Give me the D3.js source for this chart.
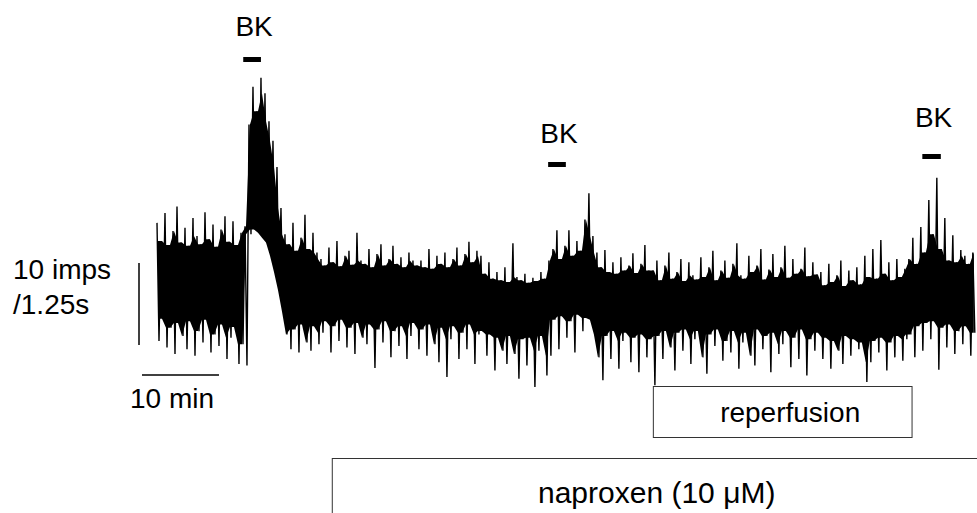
<!DOCTYPE html>
<html>
<head>
<meta charset="utf-8">
<script src="https://cdn.jsdelivr.net/npm/d3@7/dist/d3.min.js"></script>
<style>
	body { margin: 0; background: #fff; }
	svg { display: block; font-family: "Liberation Sans", Arial, Helvetica, sans-serif; }
</style>
</head>
<body>
<svg id="chart"></svg>
<script>
// Firing rate (imps / 1.25 s): one local maximum and one
// local minimum per 2 * halfStep minutes, starting at t = 0
const halfStep = 0.2597;

const peaks = [
	// control
	21.6, 19.4, 22.8, 18.9, 20.6, 23.6, 19.2, 21.0, 18.8, 22.2, 20.0, 19.0, 22.9, 19.6, 21.4, 18.7,
	20.8, 22.4, 19.3, 21.8, 18.9, 20.4, 21.2,
	// first BK response
	33.6, 38.2, 35.2, 39.3, 37.4, 34.0, 31.6, 28.4, 23.4, 20.2,
	19.0, 21.6, 18.2, 19.8, 22.6, 18.4, 20.4, 18.0,
	17.2, 16.4, 18.6, 16.8, 19.4, 16.3, 17.6, 18.2, 16.5, 20.4, 17.0, 16.6, 18.4, 16.2, 17.8, 19.0,
	16.4, 17.2, 18.8, 16.6, 17.4, 16.2, 18.0, 17.0, 16.4,
	17.0, 16.2, 18.4, 16.0, 17.6, 16.6, 18.0, 16.2, 17.2, 18.6, 16.4, 17.8, 19.3, 16.8, 18.2,
	17.6, 15.4, 16.8, 14.8, 15.6, 14.6, 16.2, 14.4, 19.1, 15.0, 14.6, 15.4, 14.3, 14.9, 14.5, 15.6, 14.8,
	// second BK
	17.0, 18.4, 20.7, 17.2, 18.8, 20.7, 17.6, 19.4, 18.2, 22.0, 25.2, 20.0, 18.0,
	16.2, 18.3, 15.6, 16.8, 15.4, 17.4, 15.8, 16.4, 17.9, 15.5, 16.6, 18.9, 15.8,
	15.8, 17.0, 14.6, 16.4, 18.0, 14.8, 15.6, 17.2, 14.5, 16.8, 15.2, 14.7, 17.4, 15.0, 16.2, 18.2,
	14.6, 15.8, 17.0, 14.9, 16.6, 19.1, 15.2, 14.8, 17.6, 15.6, 16.4, 18.4, 14.7, 15.9, 17.8, 15.0,
	16.2, 18.8, 14.9, 17.2, 15.4, 16.0, 18.6, 15.1, 16.8, 15.3,
	15.6, 14.0, 16.6, 14.4, 15.2, 17.0, 13.9, 15.8, 14.6, 16.2, 14.1, 17.6, 15.0, 18.4, 14.8, 19.5,
	15.4, 16.8, 14.6, 17.2, 15.0, 16.0,
	// third BK
	17.2, 19.8, 16.6, 21.1, 18.0, 24.4, 20.2, 27.1, 18.4, 22.2, 17.0, 20.1, 16.8, 18.3, 17.6, 16.6, 18.0
];

const troughs = [
	7.2, 9.9, 6.4, 8.8, 5.6, 9.4, 7.8, 6.2, 9.6, 5.4, 8.4, 7.0, 9.8, 5.8, 8.0, 6.6,
	9.2, 5.0, 7.6, 8.9, 4.4, 6.8, 4.2,
	20.2, 20.8, 20.4, 19.8, 19.2, 17.6, 15.6, 13.4, 10.8, 8.0,
	6.2, 8.6, 5.8, 9.2, 7.0, 6.0, 9.0, 6.8,
	8.2, 9.6, 5.8, 9.0, 7.2, 9.8, 6.4, 8.8, 5.6, 9.4, 7.6, 6.8, 9.2, 3.9, 8.6, 7.0,
	9.6, 5.2, 8.4, 6.6, 9.0, 5.0, 7.8, 9.4, 6.2,
	8.6, 5.4, 9.2, 6.8, 4.6, 8.8, 2.8, 7.4, 9.0, 5.0, 8.2, 6.2, 9.2, 4.4, 8.0,
	8.4, 5.4, 8.0, 3.6, 7.6, 6.0, 4.4, 7.8, 5.6, 2.6, 7.4, 4.2, 7.6, 1.6, 6.0, 7.8, 3.0,
	5.4, 9.8, 6.2, 10.2, 7.6, 9.6, 5.8, 10.4, 8.4, 10.0, 9.8, 8.0, 5.2,
	2.4, 7.8, 5.0, 8.4, 3.8, 7.2, 8.2, 4.6, 7.6, 3.4, 8.0, 5.2, 7.4,
	1.8, 7.8, 5.0, 8.4, 6.4, 3.6, 8.2, 6.0, 8.6, 4.4, 7.4, 8.4, 5.2, 3.2, 8.0, 6.6,
	8.6, 4.8, 7.2, 5.8, 8.4, 3.8, 7.0, 8.2, 5.4, 4.2, 8.6, 6.2, 7.8, 3.4, 8.2, 5.6,
	6.8, 8.4, 4.0, 7.6, 5.0, 8.6, 3.0, 7.4, 6.0, 8.2,
	5.0, 7.6, 3.8, 7.2, 6.0, 4.4, 7.8, 5.4, 7.4, 6.2, 7.0, 2.2, 4.6, 7.2, 5.8, 7.6,
	3.6, 7.0, 5.2, 7.8, 4.8, 7.4,
	8.0, 5.2, 9.0, 6.0, 9.4, 7.4, 9.6, 3.7, 8.8, 6.4, 9.2, 5.6, 8.4, 6.8, 9.0, 5.4, 8.2
];

// drug applications, minutes
const bkLabel = 'BK';
const bkApplications = [[11.2, 13.5], [50.8, 53.1], [99.4, 101.8]];
const reperfusion = [64.4, 98.0];
const naproxen = [22.7, 115];
const reperfusionLabel = 'reperfusion';
const naproxenLabel = 'naproxen (10 \u03bcM)';

// calibration bars
const scaleRate = [6.7, 16.7];   // 10 imps
const scaleTime = [-1.95, 8.05]; // 10 min
const rateLabels = ['10 imps', '/1.25s'];
const timeLabel = '10 min';

// layout only
const layout = {
	width: 977, height: 513,
	traceLeft: 157, traceRight: 977,
	bkBarTop: [57, 162, 154],
	bkTextY: [36, 143, 127],
	reperfusionBox: [386, 437],
	naproxenTop: 458
};

class TraceChart {

	constructor(_config) {
		this.config = _config;
		this.initVis();
	}

	initVis() {
		let vis = this;

		vis.svg = d3.select(vis.config.parentElement)
			.attr('width', layout.width)
			.attr('height', layout.height);

		vis.xScale = d3.scaleLinear()
			.domain([0, 106.5])
			.range([layout.traceLeft, layout.traceRight]);

		vis.yScale = d3.scaleLinear()
			.domain([0, 40])
			.range([400, 72]);

		vis.renderVis();
	}

	renderVis() {
		let vis = this;

		// interleave maxima and minima into one sample series
		vis.samples = [];
		peaks.forEach((p, k) => {
			vis.samples.push({ t: 2 * k * halfStep, v: p });
			vis.samples.push({ t: (2 * k + 1) * halfStep, v: troughs[k] });
		});

		// solid core of the trace: the range both neighbouring excursions cover
		vis.core = peaks.map((p, k) => {
			const j = Math.min(k + 1, peaks.length - 1);
			const bottom = Math.max(troughs[k], troughs[j]);
			const top = Math.max(Math.min(p, peaks[j]), bottom);
			return { t: (2 * k + 0.5) * halfStep, top: top, bottom: bottom };
		});

		vis.svg.append('path')
			.datum(vis.core)
			.attr('fill', '#000')
			.attr('d', d3.area()
				.x(d => vis.xScale(d.t))
				.y0(d => vis.yScale(d.bottom))
				.y1(d => vis.yScale(d.top)));

		vis.svg.append('path')
			.datum(vis.samples)
			.attr('fill', 'none')
			.attr('stroke', '#000')
			.attr('stroke-width', 1.4)
			.attr('d', d3.line()
				.x(d => vis.xScale(d.t))
				.y(d => vis.yScale(d.v)));

		// BK bars and labels
		vis.svg.selectAll('.bk-bar')
			.data(bkApplications)
			.join('rect')
			.attr('class', 'bk-bar')
			.attr('x', d => vis.xScale(d[0]))
			.attr('width', d => vis.xScale(d[1]) - vis.xScale(d[0]))
			.attr('y', (d, i) => layout.bkBarTop[i])
			.attr('height', 5)
			.attr('fill', '#000');

		vis.svg.selectAll('.bk-label')
			.data(bkApplications)
			.join('text')
			.attr('class', 'bk-label')
			.attr('x', d => vis.xScale((d[0] + d[1]) / 2) + 2)
			.attr('y', (d, i) => layout.bkTextY[i])
			.attr('text-anchor', 'middle')
			.attr('font-size', 28)
			.text(bkLabel);

		// reperfusion box
		const rx0 = vis.xScale(reperfusion[0]), rx1 = vis.xScale(reperfusion[1]);
		vis.svg.append('rect')
			.attr('x', rx0 + 0.5)
			.attr('y', layout.reperfusionBox[0] + 0.5)
			.attr('width', rx1 - rx0)
			.attr('height', layout.reperfusionBox[1] - layout.reperfusionBox[0])
			.attr('fill', 'none')
			.attr('stroke', '#333')
			.attr('stroke-width', 1);

		vis.svg.append('text')
			.attr('x', (rx0 + rx1) / 2 + 8)
			.attr('y', 422)
			.attr('text-anchor', 'middle')
			.attr('font-size', 28)
			.text(reperfusionLabel);

		// naproxen box (runs past the right edge)
		const nx0 = vis.xScale(naproxen[0]), nx1 = vis.xScale(naproxen[1]);
		vis.svg.append('rect')
			.attr('x', nx0 + 0.5)
			.attr('y', layout.naproxenTop + 0.5)
			.attr('width', nx1 - nx0)
			.attr('height', 100)
			.attr('fill', 'none')
			.attr('stroke', '#333')
			.attr('stroke-width', 1);

		vis.svg.append('text')
			.attr('x', 538)
			.attr('y', 503)
			.attr('font-size', 30)
			.text(naproxenLabel);

		// calibration
		vis.svg.append('line')
			.attr('x1', 139).attr('x2', 139)
			.attr('y1', vis.yScale(scaleRate[0]))
			.attr('y2', vis.yScale(scaleRate[1]))
			.attr('stroke', '#000')
			.attr('stroke-width', 1.5);

		vis.svg.append('line')
			.attr('x1', vis.xScale(scaleTime[0]))
			.attr('x2', vis.xScale(scaleTime[1]))
			.attr('y1', 375).attr('y2', 375)
			.attr('stroke', '#000')
			.attr('stroke-width', 1.5);

		vis.svg.selectAll('.rate-label')
			.data(rateLabels)
			.join('text')
			.attr('class', 'rate-label')
			.attr('x', 13)
			.attr('y', (d, i) => 279 + i * 35)
			.attr('font-size', 28)
			.text(d => d);

		vis.svg.append('text')
			.attr('x', 130)
			.attr('y', 408)
			.attr('font-size', 28)
			.text(timeLabel);
	}
}

new TraceChart({ parentElement: '#chart' });
</script>
</body>
</html>
